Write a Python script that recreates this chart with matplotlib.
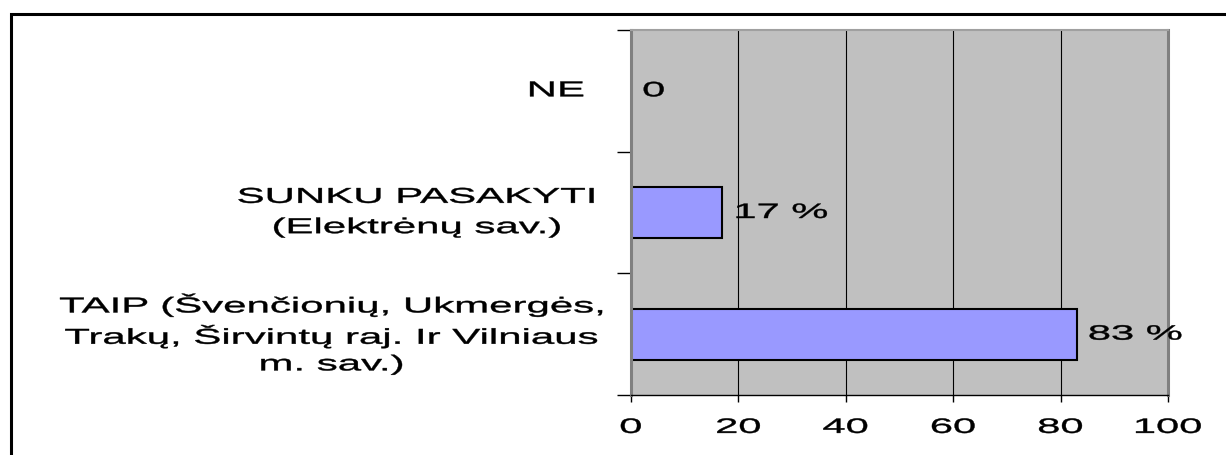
import matplotlib
matplotlib.use("Agg")
import matplotlib.pyplot as plt
from matplotlib.patches import Rectangle
from matplotlib.patheffects import AbstractPathEffect
from matplotlib.transforms import Affine2D

# data (bottom -> top, as barh draws them)
categories = [
    "TAIP (Švenčionių, Ukmergės,\nTrakų, Širvintų raj. Ir Vilniaus\nm. sav.)",
    "SUNKU PASAKYTI\n(Elektrėnų sav.)",
    "NE",
]
values = [83, 17, 0]
value_labels = ["83 %", "17 %", "0"]
x_ticks = [0, 20, 40, 60, 80, 100]

GRAY_BG = "#C0C0C0"
BAR = "#9999FF"
SPINE = "#808080"

plt.rcParams["font.family"] = ["Liberation Sans", "DejaVu Sans"]


class WideText(AbstractPathEffect):
    """Draw glyphs stretched sideways, like the old export does (~2x wide)."""

    def __init__(self, text, factor=2.0, anchor=0.5, stroke=0.3):
        super().__init__()
        self.text = text
        self.factor = factor
        self.anchor = anchor  # 0 = left edge stays, 1 = right edge stays
        self.stroke = stroke

    def draw_path(self, renderer, gc, tpath, affine, rgbFace=None):
        bb = self.text.get_window_extent(renderer)
        x0 = bb.x0 + self.anchor * bb.width
        wide = affine + Affine2D().translate(-x0, 0).scale(self.factor, 1).translate(x0, 0)
        gc0 = renderer.new_gc()
        gc0.copy_properties(gc)
        gc0.set_linewidth(self.stroke)
        gc0.set_foreground(rgbFace)
        gc0.set_joinstyle("round")
        renderer.draw_path(gc0, tpath, wide, rgbFace)
        gc0.restore()


fig = plt.figure(figsize=(12.26, 4.55), dpi=100, facecolor="white")
ax = fig.add_axes([631 / 1226, 1 - 395 / 455, (1168 - 631) / 1226, (395 - 30) / 455])

ypos = list(range(len(categories)))
ax.barh(ypos, values, height=0.42, color=BAR, edgecolor="black", linewidth=1.5, zorder=2)

ax.set_xlim(0, 100)
ax.set_ylim(-0.5, len(categories) - 0.5)
ax.set_facecolor(GRAY_BG)
ax.set_axisbelow(True)
ax.grid(axis="x", color="black", linewidth=0.8)

# x axis
ax.set_xticks(x_ticks)
ax.tick_params(axis="x", length=5, width=1, color="black", pad=11.5, labelsize=15)

# y axis: tick marks between categories, labels in the middle
ax.set_yticks([y - 0.5 for y in ypos] + [len(categories) - 0.5])
ax.set_yticklabels([])
ax.set_yticks(ypos, labels=categories, minor=True, ma="center", fontsize=15.5)
ax.tick_params(axis="y", which="major", length=10, width=1, color="black")
ax.tick_params(axis="y", which="minor", length=0, pad=35)

for side in ("left", "right"):
    ax.spines[side].set(color=SPINE, linewidth=2.2)
ax.spines["top"].set(color="#A0A0A0", linewidth=1.5)
ax.spines["bottom"].set(color="black", linewidth=1)

# data labels
for y, v, lbl in zip(ypos, values, value_labels):
    a = ax.annotate(lbl, xy=(v, y), xytext=(8, 0), textcoords="offset points",
                    ha="left", va="center", fontsize=15)
    a.set_path_effects([WideText(a, 2.0, 0.0)])

for t in ax.get_xticklabels():
    t.set_path_effects([WideText(t, 2.0, 0.5)])
for t, ls in zip(ax.get_yticklabels(minor=True), [1.35, 1.58, 1.2]):
    t.set_linespacing(ls)
    t.set_va("center")
    t.set_path_effects([WideText(t, 1.95, 0.92)])

# outer frame (only left and top edges fall inside the picture)
fig.add_artist(Rectangle((11 / 1226, -0.1), 1.2, 1.1 - 14.5 / 455,
                         transform=fig.transFigure, fill=False,
                         edgecolor="black", linewidth=2.2))

fig.savefig("out.png", dpi=100, facecolor="white")
